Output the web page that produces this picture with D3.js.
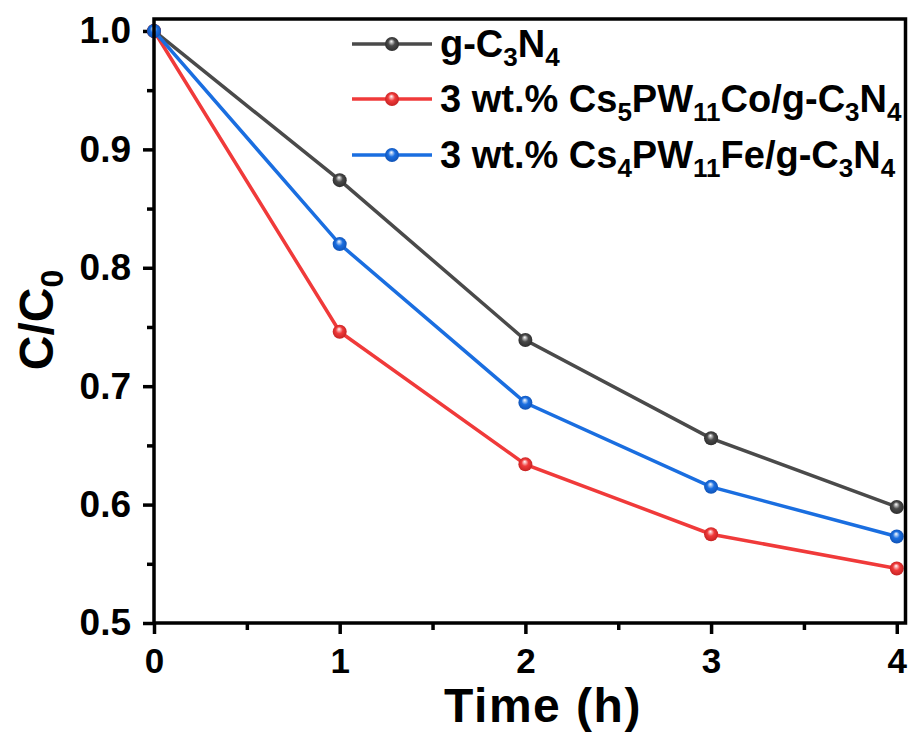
<!DOCTYPE html>
<html>
<head>
<meta charset="utf-8">
<script src="https://cdn.jsdelivr.net/npm/d3@7"></script>
<style>
  body { margin: 0; background: #fff; }
  text { font-family: "Liberation Sans", Arial, sans-serif; font-weight: bold; }
</style>
</head>
<body>
<div id="chart"></div>
<script>
// Données
const times = [0, 1, 2, 3, 4];
const gcn = [1.0, 0.874, 0.739, 0.656, 0.598];
const coGcn = [1.0, 0.746, 0.634, 0.575, 0.546];
const feGcn = [1.0, 0.820, 0.686, 0.615, 0.573];
const xTicks = [0, 1, 2, 3, 4];
const yTicks = [0.5, 0.6, 0.7, 0.8, 0.9, 1.0];

const width = 909, height = 737;
const margin = { top: 19, right: 3.5, bottom: 114, left: 154 };

const svg = d3.select("#chart").append("svg")
  .attr("width", width)
  .attr("height", height);

const x = d3.scaleLinear().domain([0, 4.047]).range([margin.left, width - margin.right]);
const y = d3.scaleLinear().domain([0.5, 1.0101]).range([height - margin.bottom, margin.top]);

// dégradés pour les marqueurs en forme de bille
const series = [
  { name: "gray", color: "#4a4a4a", dark: "#2a2a2a", values: gcn },
  { name: "red", color: "#f03a3a", dark: "#c02020", values: coGcn },
  { name: "blue", color: "#1a6ee0", dark: "#0f4fb0", values: feGcn }
];
const defs = svg.append("defs");
series.forEach(s => {
  const g = defs.append("radialGradient")
    .attr("id", "ball-" + s.name)
    .attr("cx", "50%").attr("cy", "50%").attr("r", "55%")
    .attr("fx", "45%").attr("fy", "30%");
  g.append("stop").attr("offset", "0%").attr("stop-color", "#ffffff");
  g.append("stop").attr("offset", "45%").attr("stop-color", s.color);
  g.append("stop").attr("offset", "100%").attr("stop-color", s.dark);
});

// minor ticks
const yMinor = d3.range(0.55, 1.0, 0.1);
const xMinor = [0.5, 1.5, 2.5, 3.5];

svg.append("g")
  .attr("transform", `translate(0,${height - margin.bottom})`)
  .call(d3.axisBottom(x).tickValues(xMinor).tickSize(7).tickFormat(""))
  .call(g => g.select(".domain").remove())
  .selectAll("line").attr("stroke-width", 3.5);
svg.append("g")
  .attr("transform", `translate(${margin.left},0)`)
  .call(d3.axisLeft(y).tickValues(yMinor).tickSize(7).tickFormat(""))
  .call(g => g.select(".domain").remove())
  .selectAll("line").attr("stroke-width", 3.5);

// major ticks
const xAxis = svg.append("g")
  .attr("transform", `translate(0,${height - margin.bottom})`)
  .call(d3.axisBottom(x).tickValues(xTicks).tickSize(11).tickPadding(14).tickFormat(d3.format("d")));
xAxis.select(".domain").remove();
xAxis.selectAll("line").attr("stroke-width", 3.5);
xAxis.selectAll("text").attr("font-size", 35).attr("fill", "#000")
  .style("font-family", "'Liberation Sans', Arial, sans-serif").style("font-weight", "bold");

const yAxis = svg.append("g")
  .attr("transform", `translate(${margin.left},0)`)
  .call(d3.axisLeft(y).tickValues(yTicks).tickSize(11).tickPadding(12).tickFormat(d3.format(".1f")));
yAxis.select(".domain").remove();
yAxis.selectAll("line").attr("stroke-width", 3.5);
yAxis.selectAll("text").attr("font-size", 37).attr("fill", "#000")
  .style("font-family", "'Liberation Sans', Arial, sans-serif").style("font-weight", "bold");

// séries
const line = d3.line().x((d, i) => x(times[i])).y(d => y(d));
series.forEach(s => {
  svg.append("path")
    .datum(s.values)
    .attr("fill", "none")
    .attr("stroke", s.color)
    .attr("stroke-width", 3.5)
    .attr("d", line);
  svg.selectAll(null)
    .data(s.values)
    .enter().append("circle")
    .attr("cx", (d, i) => x(times[i]))
    .attr("cy", d => y(d))
    .attr("r", 7)
    .attr("fill", `url(#ball-${s.name})`);
});

// cadre
svg.append("rect")
  .attr("x", margin.left)
  .attr("y", margin.top)
  .attr("width", width - margin.left - margin.right)
  .attr("height", height - margin.top - margin.bottom)
  .attr("fill", "none")
  .attr("stroke", "#000")
  .attr("stroke-width", 3.5);

// légende
const legendParts = [
  [["g-C", 0], ["3", 1], ["N", 0], ["4", 1]],
  [["3 wt.% Cs", 0], ["5", 1], ["PW", 0], ["11", 1], ["Co/g-C", 0], ["3", 1], ["N", 0], ["4", 1]],
  [["3 wt.% Cs", 0], ["4", 1], ["PW", 0], ["11", 1], ["Fe/g-C", 0], ["3", 1], ["N", 0], ["4", 1]]
];
const legendY = [44, 99, 155];
series.forEach((s, k) => {
  const ly = legendY[k];
  svg.append("line")
    .attr("x1", 352).attr("x2", 432)
    .attr("y1", ly).attr("y2", ly)
    .attr("stroke", s.color).attr("stroke-width", 3.5);
  svg.append("circle")
    .attr("cx", 392).attr("cy", ly).attr("r", 7)
    .attr("fill", `url(#ball-${s.name})`);
  const t = svg.append("text")
    .attr("x", 440).attr("y", ly + 13)
    .attr("font-size", 38);
  let sub = 0;
  legendParts[k].forEach(([str, isSub]) => {
    const dy = isSub && !sub ? 9 : (!isSub && sub ? -9 : 0);
    t.append("tspan").attr("dy", dy).attr("font-size", isSub ? 26 : 38).text(str);
    sub = isSub;
  });
});

// titres des axes
svg.append("text")
  .attr("x", 543).attr("y", 722)
  .attr("text-anchor", "middle")
  .attr("font-size", 48)
  .style("letter-spacing", "1.5px")
  .text("Time (h)");

const yt = svg.append("text")
  .attr("transform", "translate(53,320) rotate(-90)")
  .attr("text-anchor", "middle")
  .attr("font-size", 48);
yt.append("tspan").text("C/C");
yt.append("tspan").attr("dy", 10).attr("font-size", 32).text("0");
</script>
</body>
</html>
